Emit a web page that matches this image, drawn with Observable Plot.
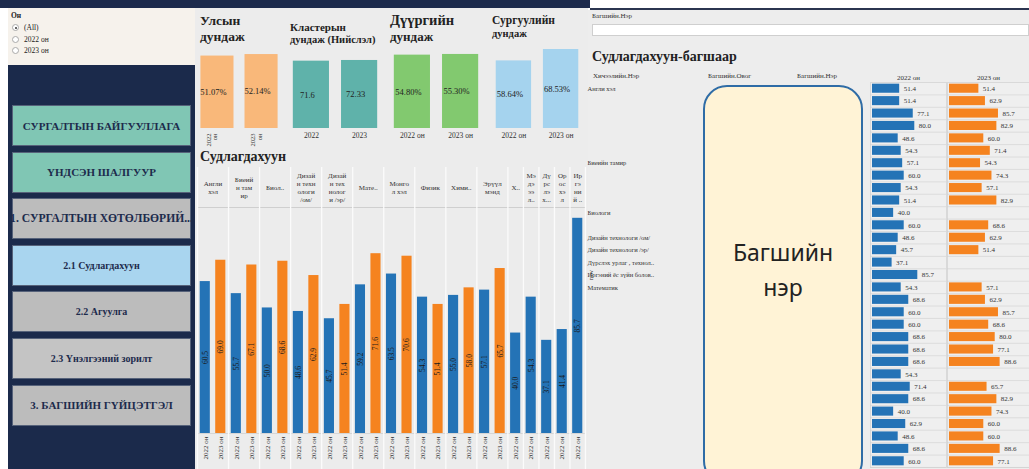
<!DOCTYPE html>
<html><head><meta charset="utf-8">
<script src="https://cdn.jsdelivr.net/npm/d3@7"></script>
<script src="https://cdn.jsdelivr.net/npm/@observablehq/plot@0.6"></script>
<style>
body{margin:0;width:1029px;height:469px;overflow:hidden;background:#fff;font-family:"Liberation Serif",serif;position:relative;color:#222}
.a{position:absolute}
.btn{position:absolute;left:12px;width:179px;height:41px;display:flex;align-items:center;justify-content:center;font-weight:bold;font-size:11px;color:#1d2b4c;border:1px solid #56627a;box-sizing:border-box;white-space:nowrap}
.radio{position:absolute;left:12px;font-size:7.5px;display:flex;align-items:center;gap:5px}
.radio i{display:inline-block;width:7px;height:7px;border-radius:50%;border:1px solid #aaa;background:#fff;box-sizing:border-box;position:relative}
.radio i.on::after{content:"";position:absolute;left:1.5px;top:1.5px;width:2px;height:2px;border-radius:50%;background:#333}
.kt{position:absolute;font-weight:bold;color:#222}
.hdr{position:absolute;font-size:7px;color:#333}
</style></head><body>
<div class="a" style="left:0;top:0;width:590px;height:8px;background:#1c2a4c"></div>
<div class="a" style="left:590px;top:8px;width:439px;height:2px;background:#2b3550"></div>
<div class="a" style="left:8px;top:8px;width:187px;height:57px;background:#f6f2ec"></div>
<div class="a" style="left:8px;top:65px;width:187px;height:404px;background:#1b2a4b"></div>
<div class="a" style="left:195px;top:8px;width:393px;height:461px;background:#ececec"></div>
<div class="a" style="left:588px;top:10px;width:441px;height:459px;background:#ededed"></div>
<div id="root"></div>
<script>
// ---------------- data ----------------
const years = ["2022 он", "2023 он"];
const filterTitle = "Он";
const filterOptions = ["(All)", "2022 он", "2023 он"];
const navButtons = ["СУРГАЛТЫН БАЙГУУЛЛАГА", "ҮНДСЭН ШАЛГУУР", "1. СУРГАЛТЫН ХӨТӨЛБӨРИЙ...", "2.1 Судлагдахуун", "2.2 Агуулга", "2.3 Үнэлгээний зорилт", "3. БАГШИЙН ГҮЙЦЭТГЭЛ"];
const navColors = ["#80c6b4", "#80c6b4", "#bcbcbc", "#a9d5ef", "#bcbcbc", "#c4c4c4", "#bcbcbc"];

const kpiTitles = [["Улсын", "дундаж"], ["Кластерын", "дундаж (Нийслэл)"], ["Дүүргийн", "дундаж"], ["Сургуулийн", "дундаж"]];
const kpiNationLabels = ["2022 он", "2023 он"];
const kpiNationValues = [51.07, 52.14];
const kpiClusterLabels = ["2022", "2023"];
const kpiClusterValues = [71.6, 72.33];
const kpiDistrictLabels = ["2022 он", "2023 он"];
const kpiDistrictValues = [54.80, 55.30];
const kpiSchoolLabels = ["2022 он", "2023 он"];
const kpiSchoolValues = [58.64, 68.53];

const subjects = ["Англи хэл", "Биеийн тамир", "Биологи", "Дизайн технологи /ом/", "Дизайн технологи /эр/", "Математик", "Монгол хэл", "Физик", "Хими", "Эрүүл мэнд", "Хөгжим", "Мэдээлэл зүй", "Дүрслэх урлаг", "Орос хэл", "Иргэний ёс зүй"];
const subjectHeaders = ["Англи\nхэл", "Биеий\nн там\nир", "Биол..", "Дизай\nн техн\nологи\n/ом/", "Дизай\nн тех\nнолог\nи /эр/", "Мате..", "Монго\nл хэл", "Физик", "Хими..", "Эрүүл\nмэнд", "Х..", "Мэ\nдэ\nээ\nл..", "Дү\nрс\nлэ\nх...", "Ор\nос\nхэ\nл", "Ир\nгэ\nни\nй .."];
const subject2022 = [60.5, 55.7, 50.0, 48.6, 45.7, 59.2, 63.5, 54.3, 55.0, 57.1, 40.0, 54.3, 37.1, 41.4, 85.7];
const subject2023 = [69.0, 67.1, 68.6, 62.9, 51.4, 71.6, 70.6, 51.4, 58.0, 65.7, null, null, null, null, null];

const tableGroups = ["Англи хэл", "Биеийн тамир", "Биологи", "Дизайн технологи /ом/", "Дизайн технологи /эр/", "Дүрслэх урлаг , технол..", "Иргэний ёс зүйн болов..", "Математик"];
const tableGroupRows = [6, 4, 2, 1, 1, 1, 1, 15];
const teacher2022 = [51.4, 51.4, 77.1, 80.0, 48.6, 54.3, 57.1, 60.0, 54.3, 51.4, 40.0, 60.0, 48.6, 45.7, 37.1, 85.7, 54.3, 68.6, 60.0, 60.0, 68.6, 68.6, 68.6, 54.3, 71.4, 68.6, 40.0, 62.9, 48.6, 68.6, 60.0];
const teacher2023 = [51.4, 62.9, 85.7, 82.9, 60.0, 71.4, 54.3, 74.3, 57.1, 82.9, null, 68.6, 62.9, 51.4, null, null, 57.1, 62.9, 85.7, 68.6, 80.0, 77.1, 88.6, null, 65.7, 82.9, 74.3, 60.0, 60.0, 88.6, 77.1];
const tableHeaders = ["Хичээлийн.Нэр", "Багшийн.Овог", "Багшийн.Нэр"];

// ---------------- helpers ----------------
const root = document.getElementById("root");
function place(node, left, top) {
  node.style.position = "absolute"; node.style.left = left + "px"; node.style.top = top + "px";
  root.appendChild(node); return node;
}
function html(str, left, top, cls, style) {
  const d = document.createElement("div"); d.className = cls || ""; d.innerHTML = str;
  if (style) d.setAttribute("style", style);
  return place(d, left, top);
}
const serif = "Liberation Serif, Times New Roman, serif";
const blue = "#2473b6", orange = "#f5831f";

// ---------------- left panel ----------------
html(filterTitle, 11, 11, "", "font-size:7.5px;font-weight:bold");
filterOptions.forEach((o, i) => html(`<i class="${i === 0 ? "on" : ""}"></i>${o}`, 12, 23 + i * 11.5, "radio"));
navButtons.forEach((b, i) => {
  const d = html(b, 12, 105 + i * 46.6, "btn");
  d.style.background = navColors[i];
  if (i >= 3 && i <= 5) d.style.fontSize = "10px";
  if (i === 2) d.style.fontSize = "11.6px";
});

// ---------------- KPI cards ----------------
const kpiPos = [[200, 13, 13.5, 13.5], [290, 21, 11, 10.5], [390, 12, 14.5, 13], [492, 14, 11.5, 10.5]];
kpiTitles.forEach((t, i) => {
  const [l, tp, f1, f2] = kpiPos[i];
  html(`<div style="font-size:${f1}px;line-height:${f1 + 2}px">${t[0]}</div><div style="font-size:${f2}px;line-height:${f2 + 2}px">${t[1]}</div>`, l, tp, "kt");
});
function kpiChart(labels, values, fmt, color, dmax, width, rotated) {
  const data = labels.map((l, i) => ({label: l, value: values[i]}));
  return Plot.plot({
    width, height: 100, marginTop: 4, marginBottom: 17, marginLeft: 0, marginRight: 0,
    style: {background: "transparent", fontFamily: serif, overflow: "visible"},
    x: {domain: labels, paddingInner: 0.25, paddingOuter: 0.1, round: false, axis: null},
    y: {domain: [0, dmax], axis: null},
    marks: [
      Plot.barY(data, {x: "label", y: "value", fill: color}),
      Plot.text(data, {x: "label", y: d => d.value / 2, text: d => fmt(d.value), fontSize: 8.5, fill: "#222", dx: -4}),
      rotated
        ? Plot.text(data, {x: "label", text: d => d.label.replace(" ", "\n"), frameAnchor: "bottom", rotate: -90, textAnchor: "end", dy: 5, fontSize: 6.5, lineHeight: 1.05, fill: "#333"})
        : Plot.text(data, {x: "label", text: "label", frameAnchor: "bottom", dy: 9, fontSize: 7.5, fill: "#333"})
    ]
  });
}
const pct = v => v.toFixed(2) + "%";
place(kpiChart(kpiNationLabels, kpiNationValues, pct, "#f9b87a", 55.7, 86, true), 196, 45);
place(kpiChart(kpiClusterLabels, kpiClusterValues, v => String(v), "#5fb2aa", 84, 94, false), 288, 45);
place(kpiChart(kpiDistrictLabels, kpiDistrictValues, pct, "#82c96f", 59, 94, false), 389, 45);
place(kpiChart(kpiSchoolLabels, kpiSchoolValues, pct, "#a5d3ee", 68.53, 92, false), 491, 45);

// ---------------- Судлагдахуун chart ----------------
html("Судлагдахуун", 200, 149, "", "font-size:14px;font-weight:bold");
const subjBars = [], subjCols = [];
let slot = 0;
subjects.forEach((s, i) => {
  const start = slot;
  [[years[0], subject2022[i]], [years[1], subject2023[i]]].forEach(([yr, v]) => {
    if (v != null) { subjBars.push({subject: s, year: yr, value: v, slot}); slot++; }
  });
  subjCols.push({subject: s, header: subjectHeaders[i], start, end: slot});
});
const bounds = subjCols.map(c => c.start).concat([slot]);
const subjPlot = Plot.plot({
  width: 390, height: 324, marginTop: 62, marginBottom: 36, marginLeft: 2, marginRight: 0,
  style: {background: "transparent", fontFamily: serif, overflow: "visible"},
  x: {domain: [0, slot], axis: null},
  y: {domain: [0, 90], axis: null},
  color: {domain: years, range: [blue, orange]},
  marks: [
    Plot.ruleY([90], {stroke: "#cfcfcf"}),
    Plot.ruleY([0], {stroke: "#d6d6d6"}),
    Plot.ruleX(bounds, {x: d => d, stroke: "#fbfbfb", strokeWidth: 1.3, insetTop: -40, insetBottom: -40}),
    Plot.rectY(subjBars, {x1: "slot", x2: d => d.slot + 1, y: "value", fill: "year", insetLeft: 2.7, insetRight: 2.7}),
    Plot.text(subjBars, {x: d => d.slot + 0.5, y: d => d.value / 2, text: d => d.value.toFixed(1), rotate: -90, fontSize: 7.5, fill: "#1a1a1a"}),
    Plot.text(subjBars, {x: d => d.slot + 0.5, y: 0, text: "year", rotate: -90, textAnchor: "end", dy: 3, fontSize: 7, fill: "#333"}),
    Plot.text(subjCols, {x: d => (d.start + d.end) / 2, frameAnchor: "top", text: "header", dy: -20, lineAnchor: "middle", fontSize: 7, lineHeight: 1.15, fill: "#333"})
  ]
});
place(subjPlot, 195, 145);

// ---------------- Right table ----------------
html(tableHeaders[2], 592, 12, "hdr");
html("", 592, 24, "", "width:437px;height:12px;background:#fff;border:1px solid #cfcfcf;box-sizing:border-box");
html("Судлагдахуун-багшаар", 592, 49, "", "font-size:14px;font-weight:bold");
html(tableHeaders[0], 593, 72, "hdr");
html(tableHeaders[1], 708, 72, "hdr");
html(tableHeaders[2], 797, 72, "hdr");
const rowLabel = [];
tableGroups.forEach((g, i) => { for (let k = 0; k < tableGroupRows[i]; k++) rowLabel.push(k === 0 ? g : ""); });
const rowIdx = d3.range(teacher2022.length);
function tableColumn(year, values, color, width, marginLeft, withLabels) {
  const rows = values.map((v, i) => ({row: i, value: v})).filter(d => d.value != null);
  return Plot.plot({
    width, height: 407, marginTop: 20, marginBottom: 2, marginLeft, marginRight: 0,
    style: {background: "transparent", fontFamily: serif, overflow: "visible"},
    x: {domain: [0, 140], axis: null, insetLeft: 2},
    y: {domain: rowIdx, paddingInner: 0.27, paddingOuter: 0.135, round: false, axis: null},
    marks: [
      Plot.frame({stroke: "#d9d9d9", fill: "#efefef"}),
      Plot.gridY({stroke: "#d0d0d0", strokeOpacity: 0.6, dy: 6.2}),
      Plot.text([year], {frameAnchor: "top", text: d => d, dy: -7, fontSize: 7, fill: "#333"}),
      withLabels ? Plot.axisY({anchor: "left", tickSize: 0, tickFormat: i => rowLabel[i], textAnchor: "start", dx: -274, fontSize: 6.5, fill: "#333"}) : null,
      Plot.barX(rows, {y: "row", x: "value", fill: color}),
      Plot.text(rows, {y: "row", x: "value", text: d => d.value.toFixed(1), dx: 4, textAnchor: "start", fontSize: 7, fill: "#333"})
    ]
  });
}
place(tableColumn(years[0], teacher2022, blue, 361, 285, true), 585, 62);
place(tableColumn(years[1], teacher2023, orange, 83, 1, false), 946, 62);

// overlay card
html('<div style="font-family:\'Noto Sans\',sans-serif;font-size:23px;color:#222;text-align:center;line-height:35px">Багшийн<br>нэр</div>', 703, 85, "",
  "width:160px;height:400px;box-sizing:border-box;border:2.5px solid #2f6ca6;border-radius:24px;background:#fff3d6;display:flex;align-items:center;justify-content:center;padding-bottom:30px");
</script>
</body></html>
